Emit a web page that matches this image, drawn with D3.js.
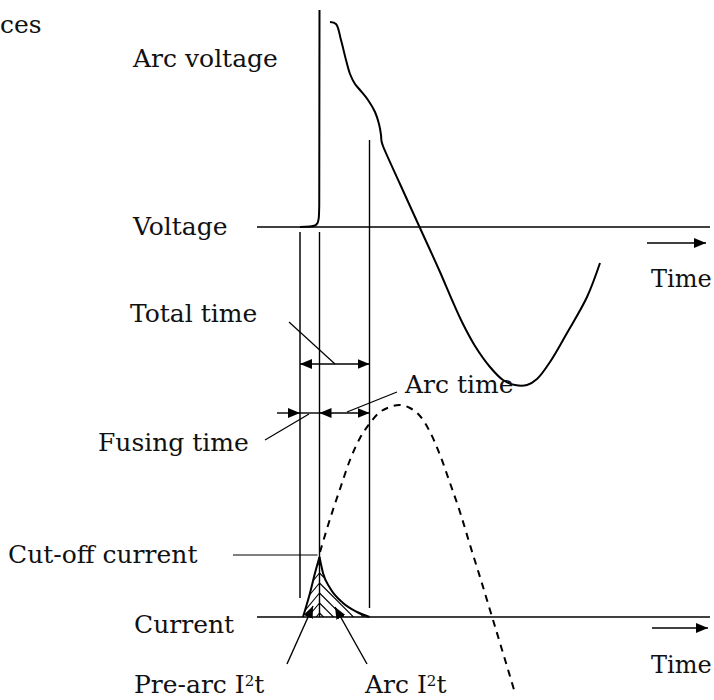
<!DOCTYPE html>
<html>
<head>
<meta charset="utf-8">
<script src="https://cdn.jsdelivr.net/npm/d3@7"></script>
<style>
  body { margin: 0; background: #fff; }
  text { font-family: "DejaVu Serif", serif; font-size: 25px; fill: #111; }
</style>
</head>
<body>
<svg id="chart" width="714" height="700"></svg>
<script>
// ** Data (time in arbitrary units, voltage / current in % of scale) **
const fuseStart = 8.6;    // fault begins
const meltTime = 12.5;    // element melts, arc starts
const clearTime = 22.5;   // arc extinguished

// voltage across the fuse before melting (then the sharp rise)
const preArcVoltT = [8.6, 10.6, 11.6, 12.1, 12.35, 12.45, 12.5];
const preArcVoltV = [0, 0.25, 0.75, 2, 4.5, 11, 108.5];

// arc voltage and recovery voltage
const arcVoltT = [14.6, 15.8, 16.8, 17.8, 18.6, 19.6, 20.6, 22.2, 23.6, 24.4, 24.8, 24.9, 25.2,
                  28.6, 32.6, 36.6, 39, 41, 43.6, 46.6, 49.2, 51.6, 54, 56,
                  58.6, 62, 66, 68.6];
const arcVoltV = [102.5, 101.5, 93.5, 83.5, 76.5, 71.5, 68.5, 63.5, 57.5, 51.5, 46, 43, 40.5,
                  21.5, -0.5, -22.5, -36.5, -47.5, -59.5, -70, -76.5, -79, -79, -76,
                  -67.5, -53, -35, -18];

// prospective (unlimited) fault current
const prospT = [12.6, 14.6, 16.6, 18.6, 20.6, 22.6, 24.6, 26.6, 28.6, 30.6, 32.6, 34.6,
                36.6, 38.6, 40.6, 42.6, 44.6, 46.6, 48.6, 51.6];
const prospI = [32.5, 49, 64, 78.5, 89.5, 97, 102.5, 105, 106, 104.5, 100.5, 92.5,
                81, 67, 52.5, 36, 20, 3.5, -13, -38];

// let-through current: pre-arc rise and arc decay
const preArcCurT = [9.2, 10.6, 11.6, 12.5];
const preArcCurI = [0, 12, 22, 30];
const arcCurT = [12.5, 13.2, 14.6, 17.2, 20, 22.5];
const arcCurI = [30, 22, 14.5, 7, 2.5, 0];

// ** Scales **
const x = d3.scaleLinear().domain([0, 90.6]).range([257, 710]);
const yV = d3.scaleLinear().domain([-100, 100]).range([427, 27]);
const yI = d3.scaleLinear().domain([-100, 100]).range([817, 417]);

const svg = d3.select("#chart");

// arrow head marker
const defs = svg.append("defs");
defs.append("marker")
  .attr("id", "head")
  .attr("viewBox", "0 0 12 10")
  .attr("refX", 12).attr("refY", 5)
  .attr("markerUnits", "userSpaceOnUse")
  .attr("markerWidth", 12).attr("markerHeight", 10)
  .attr("orient", "auto-start-reverse")
  .append("path").attr("d", "M0,0 L12,5 L0,10 Z").attr("fill", "#000");

function zip(ts, vs) { return ts.map((t, i) => [t, vs[i]]); }

function seg(x1, y1, x2, y2, w, col) {
  return svg.append("line")
    .attr("x1", x1).attr("y1", y1).attr("x2", x2).attr("y2", y2)
    .attr("stroke", col || "#000").attr("stroke-width", w || 1.3);
}

// ** Axes (time baselines) **
seg(x(0), yV(0), x(90.6), yV(0), 1.5);
seg(x(0), yI(0), x(90.6), yI(0), 1.5);

// time direction arrows
seg(647, 243, 706, 243, 1.5).attr("marker-end", "url(#head)");
seg(652, 628, 708, 628, 1.5).attr("marker-end", "url(#head)");

// ** Event markers **
seg(x(fuseStart), 232, x(fuseStart), 598, 2, "#444");
seg(x(meltTime), 232, x(meltTime), yI(0), 1.4);
seg(x(clearTime), 140, x(clearTime), 608, 1.4);

// ** Voltage **
const lineV = d3.line().x(d => x(d[0])).y(d => yV(d[1]));
svg.append("path")
  .attr("d", lineV.curve(d3.curveMonotoneX)(zip(preArcVoltT, preArcVoltV)))
  .attr("fill", "none").attr("stroke", "#000").attr("stroke-width", 2);

svg.append("path")
  .attr("d", lineV.curve(d3.curveCatmullRom.alpha(0.5))(zip(arcVoltT, arcVoltV)))
  .attr("fill", "none").attr("stroke", "#000").attr("stroke-width", 2);

// ** Current **
const lineI = d3.line().x(d => x(d[0])).y(d => yI(d[1]));

// prospective current, dashed
svg.append("path")
  .attr("d", lineI.curve(d3.curveCatmullRom)(zip(prospT, prospI)))
  .attr("fill", "none").attr("stroke", "#000").attr("stroke-width", 2)
  .attr("stroke-dasharray", "7,6");

// let-through regions used to clip the hatching
const preArcPts = zip(preArcCurT, preArcCurI).concat([[meltTime, 0]]);
defs.append("clipPath").attr("id", "clipPre")
  .append("path").attr("d", d3.line().x(d => x(d[0])).y(d => yI(d[1]))(preArcPts) + "Z");
defs.append("clipPath").attr("id", "clipArc")
  .append("path").attr("d", d3.line().x(d => x(d[0])).y(d => yI(d[1])).curve(d3.curveMonotoneX)(zip(arcCurT, arcCurI)) +
       "L" + x(meltTime) + "," + yI(0) + "Z");

// herringbone hatching
const xc = x(meltTime);
const gPre = svg.append("g").attr("clip-path", "url(#clipPre)");
const gArc = svg.append("g").attr("clip-path", "url(#clipArc)");
for (let k = 0; k < 9; k++) {
  let y0 = yI(0) - 4 - k * 10;
  gPre.append("line").attr("x1", xc).attr("y1", y0).attr("x2", xc - 40).attr("y2", y0 + 48)
    .attr("stroke", "#000").attr("stroke-width", 1.1);
  gArc.append("line").attr("x1", xc).attr("y1", y0).attr("x2", xc + 50).attr("y2", y0 + 50)
    .attr("stroke", "#000").attr("stroke-width", 1.1);
}

svg.append("path")
  .attr("d", lineI.curve(d3.curveMonotoneX)(zip(preArcCurT, preArcCurI)))
  .attr("fill", "none").attr("stroke", "#000").attr("stroke-width", 2);
svg.append("path")
  .attr("d", lineI.curve(d3.curveMonotoneX)(zip(arcCurT, arcCurI)))
  .attr("fill", "none").attr("stroke", "#000").attr("stroke-width", 2);

// ** Time annotations **
seg(x(fuseStart), 364, x(clearTime), 364, 1.4)
  .attr("marker-start", "url(#head)").attr("marker-end", "url(#head)");
seg(277, 413, x(fuseStart), 413, 1.4).attr("marker-end", "url(#head)");
seg(x(fuseStart), 413, x(meltTime), 413, 1.4);
seg(x(meltTime), 413, x(clearTime), 413, 1.4)
  .attr("marker-start", "url(#head)").attr("marker-end", "url(#head)");

// leaders
seg(289, 322, 335, 364, 1.2);
seg(397, 392, 347, 412, 1.2);
seg(265, 440, 309, 414, 1.2);
seg(233, 555, x(meltTime) - 2, 555, 1.2);
seg(287, 664, 313, 606, 1.4).attr("marker-end", "url(#head)");
seg(367, 664, 335, 607, 1.4).attr("marker-end", "url(#head)");

// ** Labels **
const labels = [
  ["ces", 0, 33], ["Arc voltage", 133, 67], ["Voltage", 133, 235],
  ["Total time", 130, 322], ["Arc time", 405, 393], ["Fusing time", 98, 451],
  ["Cut-off current", 8, 563], ["Current", 134, 633]
];
labels.forEach(l => svg.append("text").attr("x", l[1]).attr("y", l[2]).text(l[0]));

// time axis labels
[287, 673].forEach(yb => svg.append("text").attr("x", 651).attr("y", yb)
  .style("font-size", "24px").text("Time"));

// I²t labels with superscript
[["Pre-arc I", 134], ["Arc I", 365]].forEach(l => {
  let t = svg.append("text").attr("x", l[1]).attr("y", 693);
  t.append("tspan").text(l[0]);
  t.append("tspan").attr("dy", -7).style("font-size", "15px").text("2");
  t.append("tspan").attr("dy", 7).text("t");
});
</script>
</body>
</html>
